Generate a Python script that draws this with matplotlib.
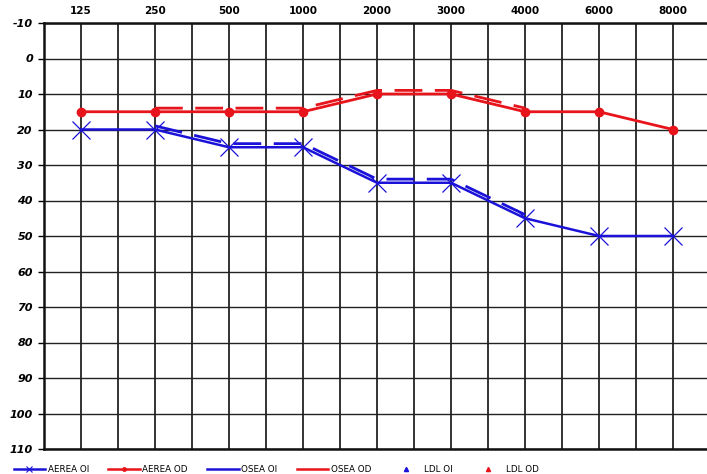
import matplotlib.pyplot as plt
import matplotlib.transforms as mtransforms
from matplotlib.lines import Line2D

freqs = ["125", "250", "500", "1000", "2000", "3000", "4000", "6000", "8000"]

# air conduction thresholds (dB HL), one per frequency
aerea_oi = [20, 20, 25, 25, 35, 35, 45, 50, 50]
aerea_od = [15, 15, 15, 15, 10, 10, 15, 15, 20]

# bone conduction, 250 - 4000 Hz
osea_idx = [1, 2, 3, 4, 5, 6]
osea_oi = [20, 25, 25, 35, 35, 45]
osea_od = [15, 15, 15, 10, 10, 15]

yticks = list(range(-10, 111, 10))

fig = plt.figure(figsize=(7.07, 4.74), dpi=100)
ax = fig.add_axes([44 / 707, 1 - 449 / 474, 1 - 44 / 707, 426 / 474])

x_all = [i + 0.5 for i in range(len(freqs))]
x_osea = [i + 0.5 for i in osea_idx]

# grid
for i in range(1, 18):
    ax.axvline(i * 0.5, color="#222222", lw=1.3, zorder=1)
for y in yticks:
    ax.axhline(y, color="#222222", lw=1.0, zorder=1)

# bone conduction drawn slightly above the air lines
shift = mtransforms.offset_copy(ax.transData, fig=fig, x=0, y=2.6, units="points")
ax.plot(x_osea, osea_od, color="#e8141b", lw=2, dashes=(10, 4.5),
        transform=shift, zorder=3)
ax.plot(x_osea, osea_oi, color="#1a12d8", lw=2, dashes=(10, 4.5),
        transform=shift, zorder=3)

ax.plot(x_all, aerea_od, color="#e8141b", lw=2, marker="o", ms=6, zorder=4)
ax.plot(x_all, aerea_oi, color="#1a12d8", lw=1.8, marker="x", ms=13,
        mew=0.9, zorder=4)

ax.set_xlim(0, 663 / 74)
ax.set_ylim(110, -10)
ax.set_yticks(yticks)
ax.set_yticklabels([str(v) for v in yticks], fontsize=8, fontweight="bold",
                   fontstyle="italic")
ax.set_xticks(x_all)
ax.xaxis.tick_top()
ax.set_xticklabels(freqs, fontsize=7.5, fontweight="bold")
ax.tick_params(axis="x", length=0, pad=5)
ax.tick_params(axis="y", length=4, width=1, pad=4)

for side in ["right"]:
    ax.spines[side].set_visible(False)
for side in ["left", "top", "bottom"]:
    ax.spines[side].set_linewidth(1.8)
    ax.spines[side].set_color("#111111")

handles = [
    Line2D([], [], color="#1a12d8", lw=1.8, marker="x", ms=5, mew=0.8),
    Line2D([], [], color="#e8141b", lw=1.8, marker="o", ms=2.5),
    Line2D([], [], color="#1a12d8", lw=1.8),
    Line2D([], [], color="#e8141b", lw=1.8),
    Line2D([], [], color="#1a12d8", lw=0, marker="^", ms=3),
    Line2D([], [], color="#e8141b", lw=0, marker="^", ms=3),
]
labels = ["AEREA OI", "AEREA OD", "OSEA OI", "OSEA OD", "LDL OI", "LDL OD"]
fig.legend(handles, labels, loc="lower left", bbox_to_anchor=(0.008, -0.016),
           ncol=6, frameon=False, fontsize=6.3, handlelength=3.6,
           handletextpad=0.3, columnspacing=2.2)

fig.savefig("out.png", dpi=100)
